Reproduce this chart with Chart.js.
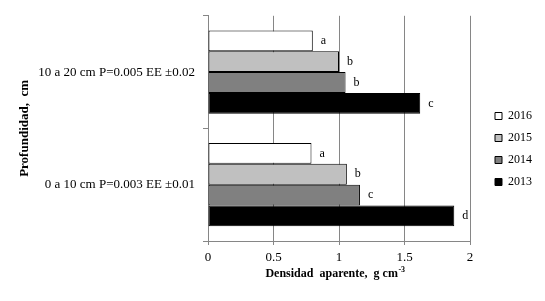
<!DOCTYPE html>
<html>
<head>
<meta charset="utf-8">
<script src="https://cdn.jsdelivr.net/npm/chart.js@4"></script>
<style>
  html, body { margin:0; padding:0; background:#fff; }
  #wrap { width:545px; height:301px; position:relative; }
</style>
</head>
<body>
<div id="wrap"><canvas id="densCanvas"></canvas></div>
<script>
/* ---------- data ---------- */
const categories = ["10 a 20 cm P=0.005 EE \u00b10.02", "0 a 10 cm P=0.003 EE \u00b10.01"];
const years      = ["2016", "2015", "2014", "2013"];

const v2016 = [0.80, 0.79];
const v2015 = [1.00, 1.06];
const v2014 = [1.05, 1.16];
const v2013 = [1.62, 1.88];

// letters of the mean separation test
const l2016 = ["a", "a"];
const l2015 = ["b", "b"];
const l2014 = ["b", "c"];
const l2013 = ["c", "d"];

const xTicks = [0, 0.5, 1, 1.5, 2];

/* ---------- look ---------- */
const AXIS  = "#868686";
const FONT  = "'Liberation Serif', 'Times New Roman', serif";
Chart.defaults.font.family = FONT;
Chart.defaults.color = "#000";

const fills = ["#ffffff", "#c0c0c0", "#808080", "#000000"];
const vals  = [v2016, v2015, v2014, v2013];
const lets  = [l2016, l2015, l2014, l2013];

const datasets = years.map((y, i) => ({
  label: y,
  data: vals[i],
  letters: lets[i],
  backgroundColor: fills[i],
  borderColor: "#000",
  borderWidth: 1,
  borderSkipped: false,
  categoryPercentage: 0.74,
  barPercentage: 1.0
}));

/* letters a/b/c/d right of each bar */
const letterPlugin = {
  id: "letters",
  afterDatasetsDraw(chart){
    const ctx = chart.ctx;
    ctx.save();
    ctx.font = "12px " + FONT;
    ctx.fillStyle = "#000";
    ctx.textAlign = "left";
    ctx.textBaseline = "middle";
    chart.data.datasets.forEach((ds, di) => {
      chart.getDatasetMeta(di).data.forEach((bar, j) => {
        ctx.fillText(ds.letters[j], bar.x + 8, bar.y);
      });
    });
    ctx.restore();
  }
};

/* x title with superscript (canvas text has no <sup>) */
const xTitlePlugin = {
  id: "xTitle",
  afterDraw(chart){
    const ctx  = chart.ctx;
    const area = chart.chartArea;
    const main = "Densidad  aparente,  g cm";
    const sup  = "-3";
    ctx.save();
    ctx.fillStyle = "#000";
    ctx.textBaseline = "alphabetic";
    ctx.font = "bold 12px " + FONT;
    const wMain = ctx.measureText(main).width;
    ctx.font = "bold 8px " + FONT;
    const wSup = ctx.measureText(sup).width;
    const x0 = (area.left + area.right) / 2 - (wMain + wSup) / 2 - 4;
    const yBase = chart.scales.x.bottom - 7;
    ctx.font = "bold 12px " + FONT;
    ctx.textAlign = "left";
    ctx.fillText(main, x0, yBase);
    ctx.font = "bold 8px " + FONT;
    ctx.fillText(sup, x0 + wMain + 0.5, yBase - 5);
    ctx.restore();
  }
};

new Chart(document.getElementById("densCanvas"), {
  type: "bar",
  data: { labels: categories, datasets },
  plugins: [letterPlugin, xTitlePlugin],
  options: {
    indexAxis: "y",
    responsive: true,
    maintainAspectRatio: false,
    animation: false,
    devicePixelRatio: 1,
    layout: { padding: { top: 14, right: 3, bottom: 17, left: 0 } },
    scales: {
      x: {
        min: 0, max: 2,
        afterBuildTicks: sc => { sc.ticks = xTicks.map(v => ({ value: v })); },
        afterFit: sc => { sc.height = 43; },
        ticks: { color: "#000", font: { size: 13 }, padding: 5, callback: v => String(v) },
        grid: { color: AXIS, tickLength: 4, lineWidth: 1 },
        border: { color: AXIS }
      },
      y: {
        afterFit: sc => { sc.width = 208; },
        ticks: { color: "#000", font: { size: 13 }, padding: 8 },
        grid: { color: AXIS, drawOnChartArea: false, tickLength: 5, offset: true },
        border: { color: AXIS },
        title: {
          display: true,
          text: "Profundidad,  cm",
          color: "#000",
          font: { size: 13, weight: "bold" },
          padding: { top: 17, bottom: 0 }
        }
      },
      // empty spacer between plot and legend
      gap: {
        type: "linear",
        position: "right",
        display: true,
        afterFit: sc => { sc.width = 15; },
        ticks: { display: false },
        grid: { display: false },
        border: { display: false }
      }
    },
    plugins: {
      legend: {
        position: "right",
        align: "center",
        labels: {
          boxWidth: 7,
          boxHeight: 7,
          padding: 10,
          color: "#000",
          font: { size: 12 }
        }
      },
      tooltip: { enabled: false }
    }
  }
});
</script>
</body>
</html>
